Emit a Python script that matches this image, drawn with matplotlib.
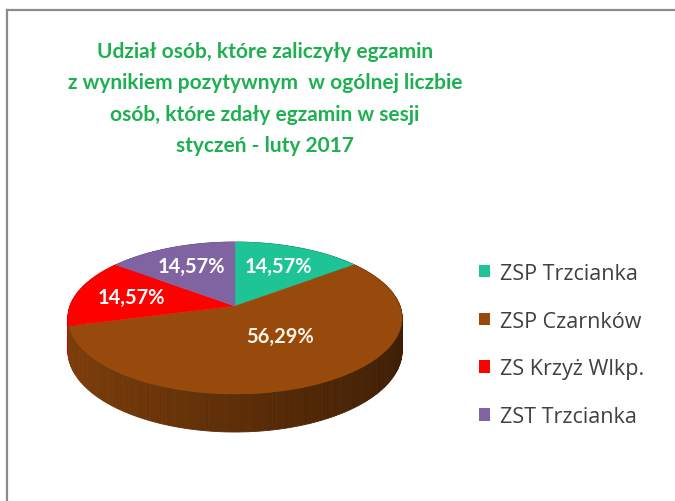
import numpy as np
import matplotlib
matplotlib.use("Agg")
import matplotlib.pyplot as plt
from matplotlib.patches import Patch
from matplotlib.lines import Line2D
from matplotlib.colors import to_rgb

# ---------------- data ----------------
categories = ["ZSP Trzcianka", "ZSP Czarnków", "ZS Krzyż Wlkp.", "ZST Trzcianka"]
values = [14.57, 56.29, 14.57, 14.57]
colors = ["#1FC496", "#974A0C", "#FF0000", "#8064A2"]
title = ("Udział osób, które zaliczyły egzamin\n"
         "z wynikiem pozytywnym  w ogólnej liczbie\n"
         "osób, które zdały egzamin w sesji\n"
         "styczeń - luty 2017")

# ---------------- layout (pixels) ----------------
W, H_PX = 675, 502
CX, CY = 235.0, 307.0      # pie centre on screen
A, B = 165.0, 74.1         # semi axes of top face
K = 0.158                  # perspective factor
DEPTH = 32.0               # thickness
label_r = [0.65, 0.46, 0.65, 0.65]
label_dth = [0, -8, 0, 0]
FONT = ["Lato", "DejaVu Sans"]
LFONT = ["Open Sans", "DejaVu Sans"]

fig = plt.figure(figsize=(W / 100, H_PX / 100), dpi=100)
ax = fig.add_axes([0, 0, 1, 1])
ax.set_xlim(0, W)
ax.set_ylim(H_PX, 0)
ax.axis("off")


def proj(theta_deg, r, z):
    t = np.radians(theta_deg)
    X = r * np.sin(t)
    Y = r * np.cos(t)
    s = 1.0 / (1.0 + K * Y)
    return CX + A * X * s, CY - (B * Y + DEPTH * z) * s


total = float(sum(values))
starts = np.concatenate([[0], np.cumsum(values)[:-1]]) / total * 360.0
spans = np.array(values) / total * 360.0

# ---- sides (outer cylinder), drawn far->near ----
segs = []
for i, (st, sp) in enumerate(zip(starts, spans)):
    n = max(int(sp / 1.0), 2)
    th = np.linspace(st, st + sp, n + 1)
    for a0, a1 in zip(th[:-1], th[1:]):
        segs.append((a0, a1, i))
segs.sort(key=lambda s: -np.cos(np.radians((s[0] + s[1]) / 2)))
for a0, a1, i in segs:
    mid = np.radians((a0 + a1) / 2)
    f = 0.62 - 0.22 * np.sin(mid)
    c = tuple(min(1, v * f) for v in to_rgb(colors[i]))
    xs0, ys0 = proj(np.array([a0, a1]), 1.0, 0.0)
    xs1, ys1 = proj(np.array([a1, a0]), 1.0, -1.0)
    ax.fill(np.r_[xs0, xs1], np.r_[ys0, ys1], color=c, lw=0.6, ec=c)

# ---- top faces ----
for i, (st, sp) in enumerate(zip(starts, spans)):
    th = np.linspace(st, st + sp, max(int(sp), 2) + 1)
    xs, ys = proj(th, 1.0, 0.0)
    ax.fill(np.r_[CX, xs], np.r_[CY, ys], color=colors[i], lw=0.3, ec=colors[i])

# ---- data labels ----
for i, (st, sp) in enumerate(zip(starts, spans)):
    lx, ly = proj(st + sp / 2 + label_dth[i], label_r[i], 0.0)
    txt = f"{values[i]:.2f}".replace(".", ",") + "%"
    ax.text(lx, ly, txt, ha="center", va="center", fontsize=14.5,
            fontweight="bold", color="#FFF3E6" if i == 1 else "white",
            family=FONT)

# ---- title ----
ax.text(265, 99, title, ha="center", va="center", fontsize=15.0,
        color="#1DB050", family=FONT, fontweight="bold", linespacing=1.72)

# ---- legend ----
handles = [Patch(facecolor=c, edgecolor="none") for c in colors]
fig.legend(handles, categories, loc="upper left",
           bbox_to_anchor=(470 / W, 1 - 255 / H_PX), frameon=False,
           prop={"family": LFONT, "size": 15.5}, labelcolor="#404040",
           handlelength=0.53, handleheight=0.53, handletextpad=0.45,
           labelspacing=1.25, borderaxespad=0)

# ---- outer border (left and top) ----
ax.add_line(Line2D([7, 7], [H_PX, 11], color="#8C8C8C", lw=1.6))
ax.add_line(Line2D([7, W], [11, 11], color="#8C8C8C", lw=1.6))

fig.savefig("out.png", dpi=100)
